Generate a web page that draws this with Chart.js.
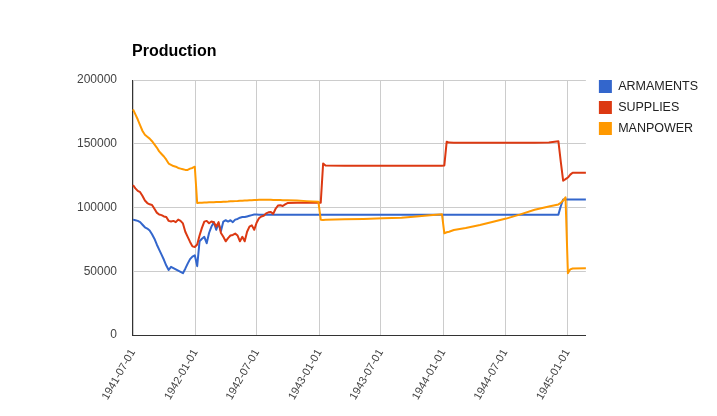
<!DOCTYPE html>
<html>
<head>
<meta charset="utf-8">
<title>Production</title>
<script src="https://cdn.jsdelivr.net/npm/chart.js@4.4.0/dist/chart.umd.min.js"></script>
<style>
  body { margin: 0; background: #fff; }
  #wrap { width: 717px; height: 416px; }
</style>
</head>
<body>
<div id="wrap"><canvas id="chart" width="717" height="416"></canvas></div>
<script>
// weekly readings through autumn 1942, then only where the lines change
const dates = [
  "1941-07-01", "1941-07-08", "1941-07-15", "1941-07-22", "1941-07-29", "1941-08-05", "1941-08-12", "1941-08-19", "1941-08-26", "1941-09-02",
  "1941-09-09", "1941-09-16", "1941-09-23", "1941-09-30", "1941-10-07", "1941-10-14", "1941-10-21", "1941-10-28", "1941-11-04", "1941-11-11",
  "1941-11-18", "1941-11-25", "1941-12-02", "1941-12-09", "1941-12-16", "1941-12-23", "1941-12-30", "1942-01-06", "1942-01-13", "1942-01-20",
  "1942-01-27", "1942-02-03", "1942-02-10", "1942-02-17", "1942-02-24", "1942-03-03", "1942-03-10", "1942-03-17", "1942-03-24", "1942-03-31",
  "1942-04-07", "1942-04-14", "1942-04-21", "1942-04-28", "1942-05-05", "1942-05-12", "1942-05-19", "1942-05-26", "1942-06-02", "1942-06-09",
  "1942-06-16", "1942-06-23", "1942-06-30", "1942-07-07", "1942-07-14", "1942-07-21", "1942-07-28", "1942-08-04", "1942-08-11", "1942-08-18",
  "1942-08-25", "1942-09-01", "1942-09-08", "1942-09-15", "1942-09-22", "1942-09-29",
  "1942-10-27", "1942-11-24", "1942-12-29", "1943-01-05", "1943-01-12", "1943-01-19", "1943-03-16", "1943-05-11", "1943-07-06", "1943-08-31",
  "1943-10-05", "1943-11-23", "1943-12-28", "1944-01-04", "1944-01-11", "1944-01-18", "1944-02-01", "1944-03-07", "1944-04-18", "1944-05-30",
  "1944-07-04", "1944-08-15", "1944-09-26", "1944-11-07", "1944-12-05", "1944-12-12", "1944-12-19", "1944-12-26", "1945-01-02", "1945-01-09",
  "1945-01-16", "1945-02-24"
];

const armaments = [
  90500, 90000, 89500, 88500, 86500, 84500, 83500, 82000, 79000, 75500,
  71000, 67000, 63000, 59000, 54500, 51000, 53500, 52500, 51500, 50500,
  49500, 48500, 52000, 56000, 59500, 61500, 62500, 54000, 73500, 75500,
  77000, 72000, 80000, 85000, 88500, 82500, 87500, 81500, 89000, 90000,
  89000, 90000, 88500, 90500, 91000, 92000, 92500, 92500, 93000, 93500,
  94000, 94500, 94500, 94400, 94400, 94400, 94400, 94400, 94400, 94400,
  94400, 94400, 94400, 94400, 94400, 94400,
  94400, 94400, 94400, 94400, 94400, 94400, 94400, 94400, 94400, 94400,
  94400, 94400, 94400, 94400, 94400, 94400, 94400, 94400, 94400, 94400,
  94400, 94400, 94400, 94400, 94400, 101000, 106300, 106300, 106300, 106300,
  106300, 106300
];

const supplies = [
  117500, 115000, 113000, 112000, 109000, 105500, 103500, 102500, 102000, 99000,
  96000, 94500, 94000, 93000, 92500, 89500, 89000, 89500, 88500, 90500,
  89500, 87500, 81000, 77000, 73000, 69500, 69000, 71000, 78000, 84000,
  88900, 89500, 87600, 89000, 88500, 85000, 88500, 80000, 77000, 73500,
  76000, 78000, 78500, 79500, 78000, 73500, 77000, 73500, 81000, 85000,
  86000, 82500, 88000, 91500, 93000, 93500, 95400, 96200, 96500, 95000,
  99000, 101500, 101800, 101200, 102500, 103500,
  103800, 103800, 103800, 103800, 134500, 132900, 132800, 132800, 132800, 132800,
  132800, 132800, 132800, 133000, 151600, 150900, 150800, 150800, 150800, 150800,
  150800, 150800, 150800, 150900, 152000, 136000, 121000, 122200, 123500, 125800,
  127300, 127300
];

const manpower = [
  177000, 173000, 169000, 164500, 160000, 157000, 155500, 154000, 152000, 149500,
  147000, 144000, 142000, 140000, 137500, 134500, 133500, 132500, 132000, 131000,
  130500, 130000, 129500, 129500, 130500, 131000, 132000, 103500, 103800, 103800,
  103900, 104000, 104100, 104100, 104200, 104300, 104300, 104400, 104600, 104600,
  104700, 104900, 104900, 105000, 105100, 105300, 105300, 105400, 105500, 105700,
  105700, 105800, 105900, 106000, 106000, 106100, 106000, 106100, 106000, 105900,
  105900, 105800, 105800, 105700, 105600, 105600,
  105400, 105000, 104600, 90400, 90200, 90300, 90700, 91000, 91500, 92000,
  92700, 94000, 94800, 79800, 80600, 81000, 82300, 84000, 86300, 89000,
  91300, 94600, 98200, 100800, 102400, 103600, 105500, 108000, 48500, 51500,
  52200, 52400
];

const yTicks = [0, 50000, 100000, 150000, 200000];
const xTickLabels = ["1941-07-01", "1942-01-01", "1942-07-01", "1943-01-01", "1943-07-01", "1944-01-01", "1944-07-01", "1945-01-01"];

function toDay(s) {
  const p = s.split("-");
  return Date.UTC(+p[0], +p[1] - 1, +p[2]) / 86400000;
}
function toIso(day) {
  return new Date(Math.round(day) * 86400000).toISOString().slice(0, 10);
}
function points(values) {
  return values.map((v, i) => ({ x: toDay(dates[i]), y: v }));
}

// axis starts a few days before the first reading, as in the original
const xMin = toDay(dates[0]) - 3;
const xMax = toDay(dates[dates.length - 1]);

// move the legend block where the original puts it
const legendNudge = {
  id: "legendNudge",
  afterLayout(chart) {
    const lg = chart.legend;
    lg.left += 5; lg.right += 5;
    lg.top += 72; lg.bottom += 72;
  }
};

Chart.defaults.font.family = "Arial, 'Liberation Sans', sans-serif";

new Chart(document.getElementById("chart"), {
  type: "line",
  data: {
    datasets: [
      { label: "ARMAMENTS", data: points(armaments), borderColor: "#3366cc", backgroundColor: "#3366cc", order: 3 },
      { label: "SUPPLIES", data: points(supplies), borderColor: "#dc3912", backgroundColor: "#dc3912", order: 2 },
      { label: "MANPOWER", data: points(manpower), borderColor: "#ff9900", backgroundColor: "#ff9900", order: 1 }
    ]
  },
  options: {
    responsive: false,
    animation: false,
    events: [],
    layout: { padding: { left: 0, right: 14, top: 0, bottom: 0 } },
    elements: {
      point: { radius: 0 },
      line: { borderWidth: 2, tension: 0, borderJoinStyle: "round" }
    },
    scales: {
      x: {
        type: "linear",
        min: xMin,
        max: xMax,
        afterBuildTicks: (s) => { s.ticks = xTickLabels.map((t) => ({ value: toDay(t) })); },
        afterFit: (s) => { s.height = 81; },
        grid: { color: "#cccccc", drawTicks: false },
        border: { color: "#333333" },
        ticks: {
          autoSkip: false, minRotation: 60, maxRotation: 60, padding: 12,
          color: "#444444", font: { size: 11 },
          callback: (v) => toIso(v)
        }
      },
      y: {
        min: 0,
        max: 200000,
        afterBuildTicks: (s) => { s.ticks = yTicks.map((v) => ({ value: v })); },
        afterFit: (s) => { s.width = 132; },
        grid: { color: (c) => (c.tick && c.tick.value === 0 ? "#333333" : "#cccccc"), drawTicks: false },
        border: { color: "#333333" },
        ticks: { padding: 15, color: "#444444", font: { size: 12 }, callback: (v) => String(v) }
      }
    },
    plugins: {
      title: {
        display: true,
        text: "Production",
        align: "start",
        fullSize: false,
        color: "#000000",
        font: { size: 16, weight: "bold" },
        padding: { top: 42, bottom: 18.8 }
      },
      legend: {
        position: "right",
        align: "start",
        labels: {
          boxWidth: 13, boxHeight: 13, padding: 8, color: "#222222", font: { size: 12.5 },
          generateLabels(chart) {
            const items = Chart.defaults.plugins.legend.labels.generateLabels(chart);
            items.forEach((it) => { it.lineWidth = 0; });
            return items.sort((a, b) => a.datasetIndex - b.datasetIndex);
          }
        }
      },
      tooltip: { enabled: false }
    }
  },
  plugins: [legendNudge]
});
</script>
</body>
</html>
